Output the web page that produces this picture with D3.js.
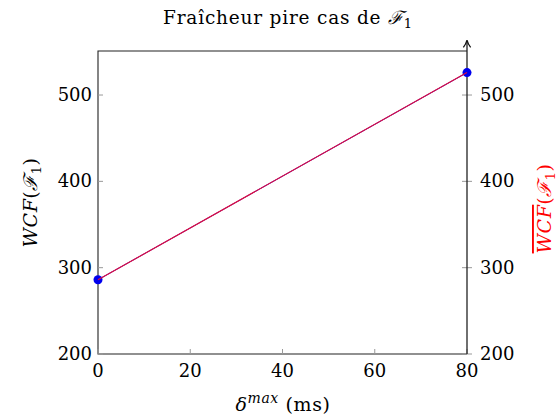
<!DOCTYPE html>
<html><head><meta charset="utf-8">
<script src="https://cdn.jsdelivr.net/npm/d3@7"></script>
<style>body{margin:0;background:#fff}svg{display:block}text{font-family:"DejaVu Serif","Liberation Serif",serif;fill:#000}</style>
</head><body><svg id="c" width="557" height="420"></svg>
<script>
const deltaMax = [0, 80];
const wcf = [286, 526];
const wcfBar = [286, 526];
const xTicks = [0, 20, 40, 60, 80];
const yTicks = [200, 300, 400, 500];

const svg = d3.select("#c");
const L = 98, R = 467, T = 51, B = 354;
const x = d3.scaleLinear().domain([0, 80]).range([L, R]);
const y = d3.scaleLinear().domain([200, 551]).range([B, T]);
const y2 = d3.scaleLinear().domain([200, 551]).range([B, T]);

svg.append("path").attr("d", `M${R},${T}H${L}V${B}H${R}`).attr("fill","none").attr("stroke","#222").attr("stroke-width",1.1);

const tickCol = "#999";
const fs = 18;
xTicks.forEach(t => {
  svg.append("line").attr("x1", x(t)).attr("x2", x(t)).attr("y1", B).attr("y2", B-5).attr("stroke", tickCol);
  svg.append("text").attr("x", x(t)).attr("y", B+23).attr("text-anchor","middle").attr("font-size",fs).text(t);
});
yTicks.forEach(t => {
  svg.append("line").attr("x1", L).attr("x2", L+5).attr("y1", y(t)).attr("y2", y(t)).attr("stroke", tickCol);
  svg.append("text").attr("x", L-6).attr("y", y(t)+6).attr("text-anchor","end").attr("font-size",fs).text(t);
  svg.append("line").attr("x1", R-5).attr("x2", R+5).attr("y1", y2(t)).attr("y2", y2(t)).attr("stroke", tickCol);
  svg.append("text").attr("x", R+13).attr("y", y2(t)+6).attr("text-anchor","start").attr("font-size",fs).text(t);
});

svg.append("defs").append("marker").attr("id","arr").attr("viewBox","0 0 10 10").attr("refX",8).attr("refY",5)
  .attr("markerWidth",7).attr("markerHeight",7).attr("orient","auto")
  .append("path").attr("d","M1,1 Q5,4 9,5 Q5,6 1,9").attr("fill","none").attr("stroke","#111").attr("stroke-width",1.4);
svg.append("line").attr("x1", R).attr("x2", R).attr("y1", B).attr("y2", T-10).attr("stroke","#222").attr("stroke-width",1.3).attr("marker-end","url(#arr)");

const pts = deltaMax.map((d,i)=>[d, wcf[i]]);
const pts2 = deltaMax.map((d,i)=>[d, wcfBar[i]]);
svg.append("path").attr("d", d3.line().x(d=>x(d[0])).y(d=>y(d[1]))(pts)).attr("stroke","#0000ff").attr("fill","none").attr("stroke-width",1);
svg.selectAll("circle.m").data(pts).join("circle").attr("cx",d=>x(d[0])).attr("cy",d=>y(d[1])).attr("r",4.5).attr("fill","#0000ee");
svg.append("path").attr("d", d3.line().x(d=>x(d[0])).y(d=>y2(d[1]))(pts2)).attr("stroke","#e0103c").attr("fill","none").attr("stroke-width",1.2);

svg.append("text").attr("x", 288).attr("y", 24).attr("text-anchor","middle").attr("font-size",18.5).attr("letter-spacing",0.8)
  .html('Fraîcheur pire cas de <tspan font-style="italic">ℱ</tspan><tspan dy="4" font-size="13">1</tspan>');

svg.append("text").attr("x", 283).attr("y", 411).attr("text-anchor","middle").attr("font-size",19).attr("letter-spacing",0.6)
  .html('<tspan font-style="italic">δ</tspan><tspan dy="-8" font-size="14" font-style="italic">max</tspan><tspan dy="8"> (ms)</tspan>');

svg.append("text").attr("transform", `translate(37,${(T+B)/2}) rotate(-90)`).attr("text-anchor","middle").attr("font-size",19).attr("letter-spacing",0.5)
  .html('<tspan font-style="italic">WCF</tspan>(<tspan font-style="italic">ℱ</tspan><tspan dy="4" font-size="13">1</tspan><tspan dy="-4">)</tspan>');

svg.append("text").attr("transform", `translate(551,${(T+B)/2 + 6}) rotate(-90)`).attr("text-anchor","middle").attr("font-size",19).attr("letter-spacing",0.5)
  .style("fill","#ff0000")
  .html('<tspan font-style="italic" text-decoration="overline" style="fill:#ff0000">WCF</tspan><tspan style="fill:#ff0000">(</tspan><tspan font-style="italic" style="fill:#ff0000">ℱ</tspan><tspan dy="4" font-size="13" style="fill:#ff0000">1</tspan><tspan dy="-4" style="fill:#ff0000">)</tspan>');
</script></body></html>
